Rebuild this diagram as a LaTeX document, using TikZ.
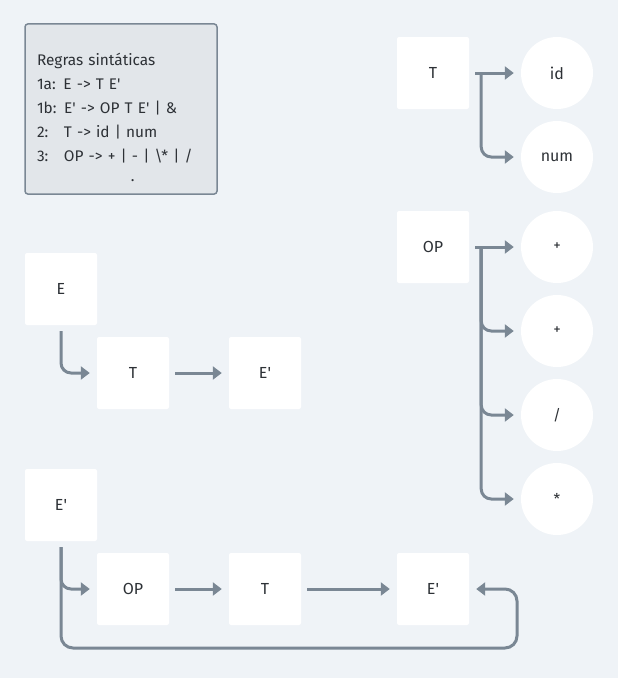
\documentclass[tikz,border=0pt]{standalone}
\usepackage{fontspec}
\setmainfont{Fira Sans}[Ligatures=TeXOff]
\usepackage{tikz}
\usetikzlibrary{arrows.meta,positioning,calc}
\definecolor{gsfundo}{RGB}{239,243,247}
\definecolor{gslinha}{RGB}{122,135,148}
\definecolor{gscaixa}{RGB}{226,230,234}
\definecolor{gstexto}{RGB}{45,49,54}

\begin{document}
\begin{tikzpicture}[x=1pt, y=-1pt,
  sym/.style={rectangle, fill=white, rounded corners=2pt, minimum size=72pt,
    inner sep=0pt, text=gstexto, font=\fontsize{16}{18}\selectfont},
  term/.style={circle, fill=white, minimum size=72pt, inner sep=0pt,
    text=gstexto, font=\fontsize{16}{18}\selectfont},
  opterm/.style={term, font=\fontsize{15}{16}\selectfont},
  rules/.style={rectangle, draw=gslinha, fill=gscaixa, line width=1.5pt,
    rounded corners=3pt, minimum width=192pt, minimum height=168pt,
    text width=168pt, inner sep=12pt, align=left, text=gstexto,
    font=\fontsize{15.4}{24}\selectfont},
  link/.style={draw=gslinha, line width=3pt, rounded corners=10pt,
    -{Triangle[length=9pt,width=13pt]}, shorten <=6pt, shorten >=7pt},
  branch/.style={link, shorten <=0pt}
]
  \fill[gsfundo] (0,0) rectangle (618,678);
  \useasboundingbox (0,0) rectangle (618,678);

  % Rules
  \node[rules] (regras) at (121,109) {\rule{0pt}{30pt}Regras sintáticas\\
    1a: E -> T E'\\
    1b: E' -> OP T E' | \&\\
    \makebox[27pt][l]{2:}T -> id | num\\
    \makebox[27pt][l]{3:}OP -> + | - | \textbackslash* | /\\[-4pt]
    \hspace*{94pt}.};

  % T productions
  \node[sym]  (tT)  at (433,73)  {T};
  \node[term] (id)  at (557,73)  {id};
  \node[term] (num) at (557,157) {num};

  % OP productions
  \node[sym]    (opO)   at (433,247) {OP};
  \node[opterm] (mais)  at (557,247) {+};
  \node[opterm] (menos) at (557,331) {+};
  \node[opterm] (div)   at (557,415) {/};
  \node[opterm] (mult)  at (557,499) {*};

  % E productions
  \node[sym] (e)  at (61,289)  {E};
  \node[sym] (eT) at (133,373) {T};
  \node[sym] (eE) at (265,373) {E'};

  % E' productions
  \node[sym] (ep)   at (61,505)  {E'};
  \node[sym] (epOP) at (133,589) {OP};
  \node[sym] (epT)  at (265,589) {T};
  \node[sym] (epE)  at (433,589) {E'};

  \coordinate (tsplit)  at ([xshift=12pt]tT.east);
  \coordinate (opsplit) at ([xshift=12pt]opO.east);
  \coordinate (volta)   at (517,648);

  % Connectors
  \draw[link] (tT) -- (id);
  \draw[branch] (tsplit) |- (num);
  \draw[link] (opO) -- (mais);
  \foreach \alvo in {menos,div,mult}
    \draw[branch] (opsplit) |- (\alvo);
  \draw[link] (e) |- (eT);
  \draw[link] (eT) -- (eE);
  \draw[link] (ep) |- (epOP);
  \draw[link] (epOP) -- (epT);
  \draw[link] (epT) -- (epE);
  \draw[link, rounded corners=12pt] (ep) |- (volta) |- (epE);
\end{tikzpicture}
\end{document}
